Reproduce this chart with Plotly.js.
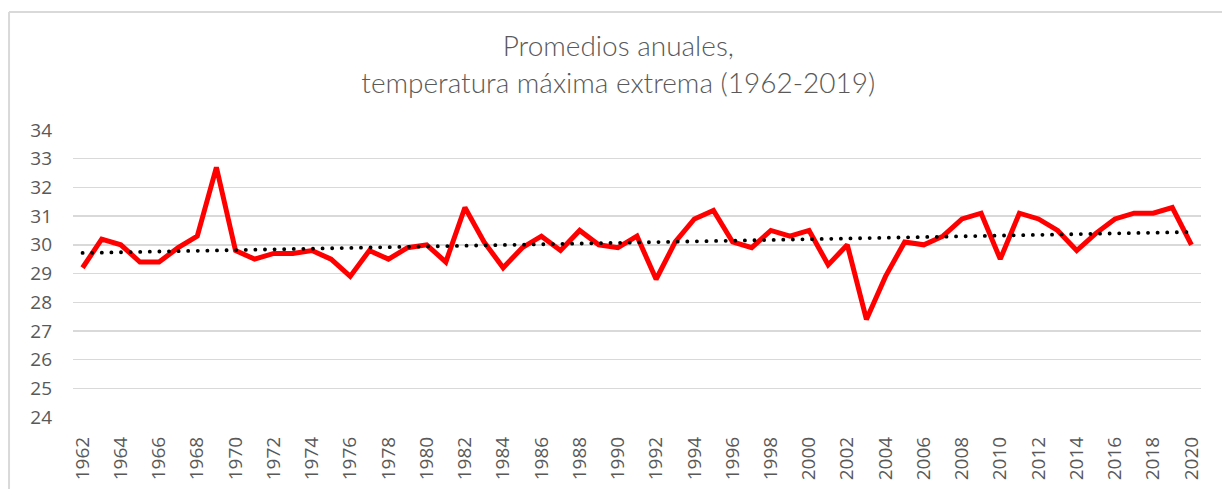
<!DOCTYPE html>
<html>
<head>
<meta charset="utf-8">
<script src="https://cdn.plot.ly/plotly-3.0.1.min.js"></script>
<style>
  html, body { margin: 0; padding: 0; background: #fff; }
  #chart { width: 1222px; height: 489px; }
  .trend path.js-line { stroke-linecap: round !important; }
  .gtitle { font-weight: 300 !important; }
</style>
</head>
<body>
<div id="chart"></div>
<script>
const years = [];
for (let y = 1962; y <= 2020; y++) years.push(y);

const temps = [
  29.2, 30.2, 30.0, 29.4, 29.4, 29.9, 30.3, 32.7, 29.8, 29.5,
  29.7, 29.7, 29.8, 29.5, 28.9, 29.8, 29.5, 29.9, 30.0, 29.4,
  31.3, 30.1, 29.2, 29.9, 30.3, 29.8, 30.5, 30.0, 29.9, 30.3,
  28.8, 30.1, 30.9, 31.2, 30.1, 29.9, 30.5, 30.3, 30.5, 29.3,
  30.0, 27.4, 28.9, 30.1, 30.0, 30.3, 30.9, 31.1, 29.5, 31.1,
  30.9, 30.5, 29.8, 30.4, 30.9, 31.1, 31.1, 31.3, 30.0
];

const tickYears = years.filter(y => y % 2 === 0);
const tickLabels = tickYears.map(String);

// Linear trendline (least squares) computed from the data, as a spreadsheet trendline does
const n = years.length;
const mx = years.reduce((a, b) => a + b, 0) / n;
const my = temps.reduce((a, b) => a + b, 0) / n;
let sxy = 0, sxx = 0;
for (let i = 0; i < n; i++) { sxy += (years[i] - mx) * (temps[i] - my); sxx += (years[i] - mx) ** 2; }
const slope = sxy / sxx, icpt = my - slope * mx;
const trendX = [years[0], years[n - 1]];
const trendY = trendX.map(x => icpt + slope * x);

const traces = [
  { x: years, y: temps, type: 'scatter', mode: 'lines',
    line: { color: '#ff0000', width: 5, shape: 'linear' }, name: 'Temp' },
  { x: trendX, y: trendY, type: 'scatter', mode: 'lines',
    line: { color: '#000000', width: 3.8, dash: '0.1px,9.5px' }, name: 'Tendencia' }
];

const layout = {
  width: 1222, height: 489,
  margin: { l: 73, r: 21, t: 130, b: 72, pad: 0 },
  paper_bgcolor: '#ffffff', plot_bgcolor: '#ffffff',
  showlegend: false,
  title: {
    text: 'Promedios anuales,<br>temperatura máxima extrema (1962-2019)',
    font: { family: 'Lato, sans-serif', size: 28, color: '#595959' },
    x: 0.506, xanchor: 'center', y: 0.885, yanchor: 'top'
  },
  shapes: [
    { type: 'line', xref: 'paper', yref: 'paper', x0: -0.0567, x1: -0.0567, y0: -0.5, y1: 1.411,
      line: { color: '#d9d9d9', width: 2 }, layer: 'above' },
    { type: 'line', xref: 'paper', yref: 'paper', x0: -0.0567, x1: 1.1, y0: 1.411, y1: 1.411,
      line: { color: '#d9d9d9', width: 2 }, layer: 'above' }
  ],
  xaxis: {
    type: 'linear', range: [1961.5, 2020.5],
    tickmode: 'array', tickvals: tickYears, ticktext: tickLabels,
    tickangle: -90, showgrid: false, zeroline: false, showline: false, ticks: '',
    tickfont: { family: 'Open Sans, sans-serif', size: 19, color: '#595959' },
    ticklabelstandoff: 15
  },
  yaxis: {
    range: [24, 34], dtick: 1, tick0: 24,
    showgrid: true, gridcolor: '#d9d9d9', gridwidth: 1.4,
    zeroline: false, showline: false, ticks: '',
    tickfont: { family: 'Open Sans, sans-serif', size: 19, color: '#595959' },
    ticklabelstandoff: 20
  }
};

Plotly.newPlot('chart', traces, layout, { displayModeBar: false, staticPlot: true }).then(() => {
  const tr = document.querySelectorAll('.scatterlayer .trace');
  if (tr[1]) tr[1].classList.add('trend');
});
</script>
</body>
</html>
